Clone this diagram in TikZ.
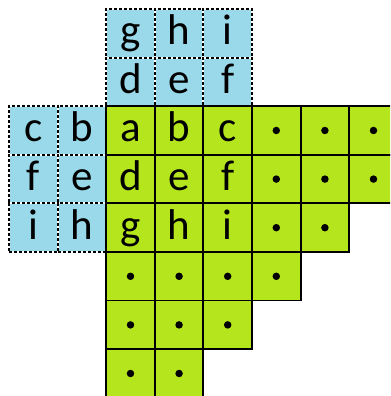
\documentclass[tikz,border=0pt]{standalone}
\usepackage{fontspec}
\setmainfont{Carlito}
\definecolor{lime}{HTML}{B5E61D}
\definecolor{lblue}{HTML}{99D9EA}
\newfontfamily\letterfont{Carlito}
\tikzset{
  cellbase/.style={rectangle, minimum size=48.6pt, inner sep=0pt, text height=30pt, text depth=7pt,
    font=\letterfont\fontsize{43}{50}\selectfont},
  gcell/.style={cellbase, draw=black, line width=1.8pt, fill=lime},
  bcell/.style={cellbase, fill=lblue, draw=white, line width=1.9pt,
    postaction={draw=black, fill=none, line width=1.9pt, dash pattern=on 3pt off 2pt}},
  dotmark/.style={circle, fill=black, inner sep=0pt, minimum size=7.5pt}
}
\begin{document}
\begin{tikzpicture}[x=48.6pt,y=-48.6pt]
\useasboundingbox (-2.185,-2.185) rectangle (5.84,5.963);
\clip (-2.185,-2.185) rectangle (5.84,5.963);
% blue top block
\foreach \l [count=\i from 0] in {g,h,i} \node[bcell] (bt0\i) at (\i+0.5,-1.5) {\l};
\foreach \l [count=\i from 0] in {d,e,f} \node[bcell] (bt1\i) at (\i+0.5,-0.5) {\l};
% blue left block
\foreach \l [count=\i from 0] in {c,b} \node[bcell] (bl0\i) at (-1.5+\i,0.5) {\l};
\foreach \l [count=\i from 0] in {f,e} \node[bcell] (bl1\i) at (-1.5+\i,1.5) {\l};
\foreach \l [count=\i from 0] in {i,h} \node[bcell] (bl2\i) at (-1.5+\i,2.5) {\l};
% green letter cells
\foreach \l [count=\i from 0] in {a,b,c} \node[gcell] (g0\i) at (\i+0.5,0.5) {\l};
\foreach \l [count=\i from 0] in {d,e,f} \node[gcell] (g1\i) at (\i+0.5,1.5) {\l};
\foreach \l [count=\i from 0] in {g,h,i} \node[gcell] (g2\i) at (\i+0.5,2.5) {\l};
% green dot cells
\foreach \r/\cs in {0/{3,4,5},1/{3,4,5},2/{3,4},3/{0,1,2,3},4/{0,1,2},5/{0,1}}{
  \foreach \c in \cs {
    \node[gcell] (g\r\c) at (\c+0.5,\r+0.5) {};
    \node[dotmark] (d\r\c) at (g\r\c.center) {};
  }
}
\end{tikzpicture}
\end{document}
